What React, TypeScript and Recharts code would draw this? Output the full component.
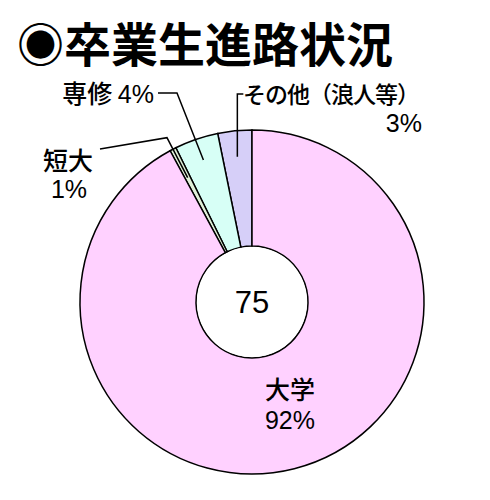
import React from "react";
import { PieChart, Pie, Cell } from "recharts";

const TITLE = "◉卒業生進路状況";
const TOTAL = 75;

// slices, counter-clockwise from 12 o'clock
const names = ["その他", "専修", "短大", "大学"];
const values = [3.2, 4.1, 0.6, 92.1];
const pcts = [3, 4, 1, 92];
const colors = ["#d6cff8", "#d7fff6", "#e0f0d8", "#ffd1ff"];

const data = names.map((name, i) => ({ name, value: values[i], pct: pcts[i] }));
const centerData = [{ name: "total", value: TOTAL }];

const FONT = '"Noto Sans CJK JP", "Noto Sans", sans-serif';
const NUM_FONT = '"Liberation Sans", Arial, sans-serif';
const RAD = Math.PI / 180;

const polar = (cx: number, cy: number, r: number, angle: number) => ({
  x: cx + r * Math.cos(-angle * RAD),
  y: cy + r * Math.sin(-angle * RAD),
});

const SliceLabel = (props: any) => {
  const { cx, cy, midAngle, index } = props;
  const name = names[index];
  const pct = `${pcts[index]}%`;
  const line = { stroke: "#000", strokeWidth: 1.5, fill: "none" };
  const txt = { fontFamily: FONT, fontSize: 25, fontWeight: 500, fill: "#000" };

  if (name === "その他") {
    const p = polar(cx, cy, 146, midAngle);
    return (
      <g>
        <polyline points={`${p.x},${p.y} ${p.x},94 ${p.x + 6},94`} {...line} />
        <text {...txt}>
          <tspan x={243} y={103} fontSize={23} letterSpacing={-1}>その他（浪人等）</tspan>
          <tspan x={422} y={132} textAnchor="end" fontFamily={NUM_FONT}>{pct}</tspan>
        </text>
      </g>
    );
  }
  if (name === "専修") {
    const p = polar(cx, cy, 150, midAngle);
    return (
      <g>
        <polyline points={`${p.x},${p.y} 177,93 158,93`} {...line} />
        <text x={154} y={103} textAnchor="end" {...txt}>
          専修 <tspan fontFamily={NUM_FONT}>{pct}</tspan>
        </text>
      </g>
    );
  }
  if (name === "短大") {
    const p = polar(cx, cy, 140, midAngle);
    const e = polar(cx, cy, 185, midAngle);
    return (
      <g>
        <polyline points={`${p.x},${p.y} ${e.x},${e.y} 100,149`} {...line} />
        <text textAnchor="middle" {...txt}>
          <tspan x={68} y={170}>短大</tspan>
          <tspan x={69} y={198} fontFamily={NUM_FONT}>{pct}</tspan>
        </text>
      </g>
    );
  }
  return (
    <text textAnchor="middle" {...txt}>
      <tspan x={cx + 38} y={cy + 97}>大学</tspan>
      <tspan x={cx + 38} y={cy + 127} fontFamily={NUM_FONT}>{pct}</tspan>
    </text>
  );
};

const CenterLabel = (props: any) => {
  const { cx, cy } = props;
  return (
    <text x={cx} y={cy + 11} textAnchor="middle" fontFamily={NUM_FONT} fontSize={31} fill="#000">
      {TOTAL}
    </text>
  );
};

export default function App() {
  return (
    <div style={{ position: "fixed", left: 0, top: 0, width: 490, height: 500, background: "#fff" }}>
      <div
        style={{
          position: "absolute",
          left: 17,
          top: 14,
          fontFamily: FONT,
          fontWeight: 700,
          fontSize: 47,
          lineHeight: "56px",
          whiteSpace: "nowrap",
          color: "#000",
        }}
      >
        {TITLE}
      </div>
      <PieChart width={490} height={500}>
        <Pie
          data={data}
          dataKey="value"
          cx={247}
          cy={297}
          innerRadius={56}
          outerRadius={172}
          startAngle={90}
          endAngle={450}
          stroke="#000"
          strokeWidth={1.5}
          label={SliceLabel}
          labelLine={false}
          isAnimationActive={false}
        >
          {data.map((d, i) => (
            <Cell key={d.name} fill={colors[i]} />
          ))}
        </Pie>
        <Pie
          data={centerData}
          dataKey="value"
          cx={247}
          cy={297}
          innerRadius={0}
          outerRadius={55}
          fill="#fff"
          stroke="none"
          label={CenterLabel}
          labelLine={false}
          isAnimationActive={false}
        />
      </PieChart>
    </div>
  );
}
